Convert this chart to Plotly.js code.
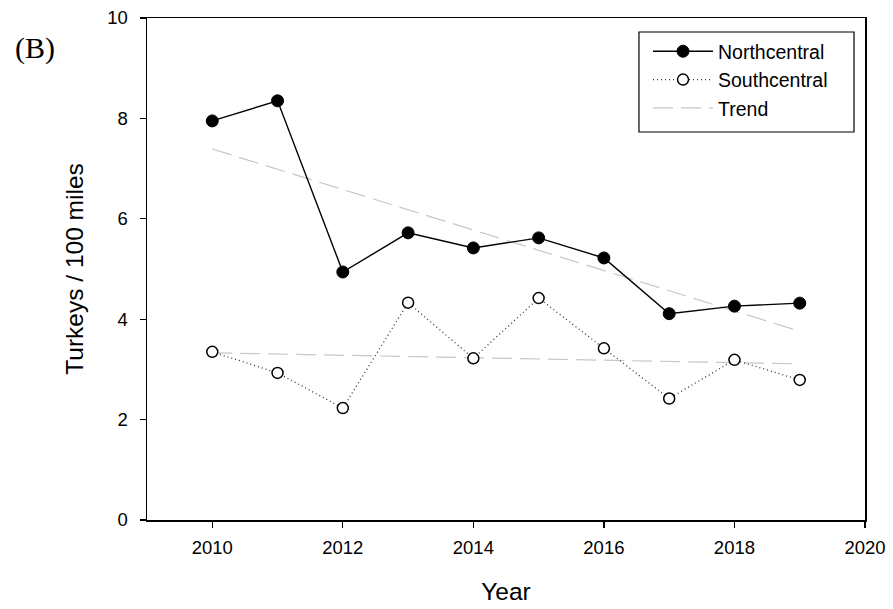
<!DOCTYPE html>
<html>
<head>
<meta charset="utf-8">
<script src="https://cdn.plot.ly/plotly-3.0.1.min.js"></script>
<style>
  html, body { margin: 0; padding: 0; background: #fff; }
  #chart { width: 893px; height: 609px; }
</style>
</head>
<body>
<div id="chart"></div>
<script>
// Survey years
const years = [2010, 2011, 2012, 2013, 2014, 2015, 2016, 2017, 2018, 2019];

// Turkeys counted per 100 miles of route
const northcentral = [7.95, 8.35, 4.94, 5.72, 5.42, 5.62, 5.22, 4.11, 4.26, 4.32];
const southcentral = [3.35, 2.93, 2.23, 4.33, 3.22, 4.42, 3.42, 2.42, 3.19, 2.79];

// Fitted trend lines (first and last year)
const trendYears = [2010, 2019];
const northTrend = [7.39, 3.76];
const southTrend = [3.33, 3.11];

const xTicks = [2010, 2012, 2014, 2016, 2018, 2020];
const yTicks = [0, 2, 4, 6, 8, 10];

const SANS = 'Liberation Sans, Arial, sans-serif';
const trendLine = { color: '#c6c6c6', width: 1.2, dash: '20px,8px' };

const traces = [
  {
    x: trendYears, y: northTrend, mode: 'lines', name: 'Trend',
    line: trendLine, legendrank: 3, hoverinfo: 'skip'
  },
  {
    x: trendYears, y: southTrend, mode: 'lines', name: 'Trend',
    line: trendLine, showlegend: false, hoverinfo: 'skip'
  },
  {
    x: years, y: northcentral, mode: 'lines+markers', name: 'Northcentral',
    legendrank: 1,
    line: { color: '#000', width: 1.4 },
    marker: { symbol: 'circle', size: 12, color: '#000', line: { color: '#000', width: 1 } }
  },
  {
    x: years, y: southcentral, mode: 'lines+markers', name: 'Southcentral',
    legendrank: 2,
    line: { color: '#333', width: 1.3, dash: '1px,3px' },
    marker: { symbol: 'circle', size: 11, color: '#fff', line: { color: '#000', width: 1.5 } }
  }
];

const tickFont = { family: SANS, size: 18.5, color: '#000' };
const titleFont = { family: SANS, size: 24.5, color: '#000' };

const layout = {
  width: 893, height: 609,
  margin: { l: 147, r: 28, t: 18, b: 89 },
  paper_bgcolor: '#fff', plot_bgcolor: '#fff',
  showlegend: true,
  legend: {
    x: 0.6978, y: 0.972, xanchor: 'left', yanchor: 'top',
    borderwidth: 0, bgcolor: 'rgba(0,0,0,0)',
    font: { family: SANS, size: 19.5, color: '#000' },
    itemwidth: 60,
    itemclick: false, itemdoubleclick: false
  },
  xaxis: {
    range: [2009, 2020], tickvals: xTicks, ticktext: xTicks.map(String),
    ticks: 'outside', ticklen: 6, tickwidth: 1.3, tickcolor: '#000',
    ticklabelstandoff: 4,
    showline: true, linecolor: '#000', linewidth: 1.5, mirror: true,
    showgrid: false, zeroline: false, tickfont: tickFont,
    title: { text: 'Year', font: titleFont, standoff: 26 }
  },
  yaxis: {
    range: [0, 10], tickvals: yTicks, ticktext: yTicks.map(String),
    ticks: 'outside', ticklen: 6, tickwidth: 1.3, tickcolor: '#000',
    ticklabelstandoff: 8,
    showline: true, linecolor: '#000', linewidth: 1.5, mirror: true,
    showgrid: false, zeroline: false, tickfont: tickFont,
    title: { text: 'Turkeys / 100 miles', font: titleFont, standoff: 16 }
  },
  shapes: [
    // legend frame
    {
      type: 'rect', xref: 'paper', yref: 'paper', layer: 'above',
      x0: 0.6852, x1: 0.9847, y0: 0.7729, y1: 0.9721,
      line: { color: '#000', width: 1.2 }, fillcolor: 'rgba(0,0,0,0)'
    }
  ],
  annotations: [
    {
      text: '(B)', xref: 'paper', yref: 'paper',
      x: -0.187, y: 0.94, xanchor: 'left', yanchor: 'middle', showarrow: false,
      font: { family: 'Liberation Serif, Times New Roman, serif', size: 30, color: '#000' }
    }
  ]
};

Plotly.newPlot('chart', traces, layout, { displayModeBar: false, staticPlot: true });
</script>
</body>
</html>
